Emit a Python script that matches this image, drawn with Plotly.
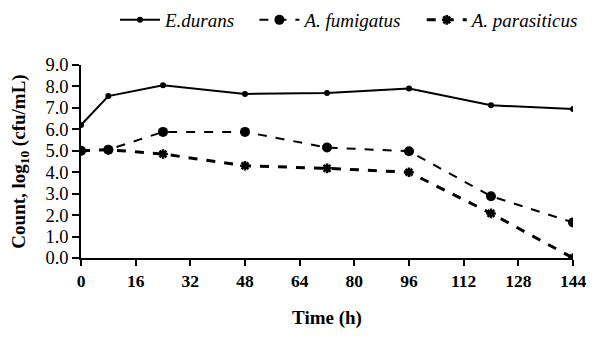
import plotly.graph_objects as go

time_h = [0, 8, 24, 48, 72, 96, 120, 144]
e_durans = [6.2, 7.55, 8.05, 7.65, 7.7, 7.9, 7.12, 6.95]
a_fumigatus = [5.0, 5.05, 5.88, 5.88, 5.15, 4.98, 2.88, 1.66]
a_parasiticus = [5.0, 5.05, 4.85, 4.3, 4.18, 4.0, 2.08, 0.0]
x_ticks = [0, 16, 32, 48, 64, 80, 96, 112, 128, 144]
y_ticks = [0, 1, 2, 3, 4, 5, 6, 7, 8, 9]

FONT = "Liberation Serif"
W, H = 600, 338
# page body adds an 8px offset; margins compensate so the plot lands where the reference has it
L, R, T, B = 73, 35, 57, 88
pw = W - L - R
ph = H - T - B
SP = "\u00a0\u00a0\u00a0"

fig = go.Figure()
fig.add_trace(go.Scatter(x=time_h, y=e_durans, name="<i>E.durans</i>" + SP, mode="lines+markers",
                         line=dict(color="black", width=2, dash="solid"),
                         marker=dict(symbol="circle", size=6, color="black")))
fig.add_trace(go.Scatter(x=time_h, y=a_fumigatus, name="<i>A. fumigatus</i>" + SP, mode="lines+markers",
                         line=dict(color="black", width=2, dash="dash"),
                         marker=dict(symbol="circle", size=10, color="black")))
fig.add_trace(go.Scatter(x=time_h, y=a_parasiticus, name="<i>A. parasiticus</i>", mode="lines+markers",
                         line=dict(color="black", width=3, dash="dash"),
                         marker=dict(symbol="asterisk-open", size=8, color="black",
                                     line=dict(color="black", width=2.5))))

# light grey frame line at the bottom of the picture
yb = -(335 - (H - B)) / ph
fig.add_shape(type="line", xref="paper", yref="paper",
              x0=-L / pw, x1=(W - 8 - L) / pw, y0=yb, y1=yb,
              line=dict(color="#d9d9d9", width=1.5), layer="below")

fig.update_layout(
    width=W, height=H,
    margin=dict(l=L, r=R, t=T, b=B, autoexpand=False),
    paper_bgcolor="white", plot_bgcolor="white",
    font=dict(family=FONT, color="black"),
    showlegend=True,
    legend=dict(orientation="h", x=1.0 + 12 / pw, xanchor="right", y=1 + 45 / ph, yanchor="middle",
                font=dict(family=FONT, size=19, color="black"),
                itemwidth=40, tracegroupgap=0, bgcolor="rgba(0,0,0,0)"),
    xaxis=dict(range=[0, 144], tickvals=x_ticks, ticktext=[str(v) for v in x_ticks],
               showgrid=False, zeroline=False, showline=True, linecolor="black", linewidth=1.5,
               ticks="outside", ticklen=6, tickcolor="black", tickwidth=1.5,
               tickfont=dict(family=FONT, size=17.5, color="black", weight="bold"),
               title=dict(text="<b>Time (h)</b>", font=dict(family=FONT, size=19, color="black"),
                          standoff=21)),
    yaxis=dict(range=[0, 9], tickvals=y_ticks, ticktext=[f"{v:.1f}" for v in y_ticks],
               showgrid=False, zeroline=False, showline=True, linecolor="black", linewidth=1.5,
               ticks="outside", ticklen=7, tickcolor="black", tickwidth=1.5,
               tickfont=dict(family=FONT, size=18.5, color="black"),
               title=dict(text="<b>Count, log<sub>10</sub> (cfu/mL)</b>",
                          font=dict(family=FONT, size=19, color="black"), standoff=15)),
)

fig.write_html("out.html")
